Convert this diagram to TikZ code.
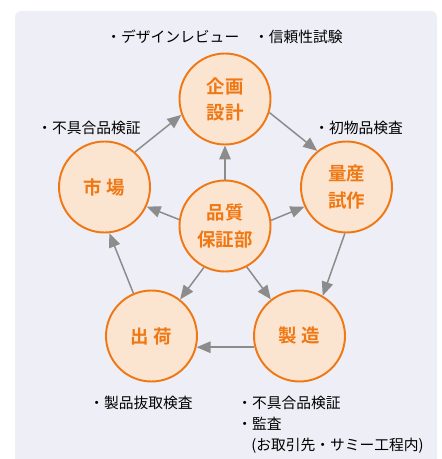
\documentclass[tikz,border=0pt]{standalone}
\usepackage{xcolor}
\usepackage{tikz}
\usepackage{fontspec}
\setmainfont{Noto Sans CJK JP}[BoldFont={Noto Sans CJK JP Bold}]
\usetikzlibrary{shapes.geometric, arrows.meta, calc}

\definecolor{qorange}{HTML}{F07814}
\definecolor{qfill}{HTML}{FCE5D0}
\definecolor{qback}{HTML}{EEEEF6}
\definecolor{qgray}{HTML}{8C8C8C}

\begin{document}
\begin{tikzpicture}[
    stage/.style={circle,draw=qorange,fill=qfill,line width=1.1pt,minimum size=1.82cm,inner sep=0pt,
        text=qorange,font=\fontsize{10.5}{14.8}\selectfont\bfseries,align=center},
    note/.style={inner sep=0pt,font=\fontsize{8.4}{12}\selectfont,align=left},
    flow/.style={draw=qgray,line width=0.85pt,-{Triangle[length=2.8mm,width=2.3mm]}}
]
    \useasboundingbox (0,0) rectangle (8.82,9.18);
    % 背景
    \fill[qback,rounded corners=0.12cm] (0.30,-0.3) rectangle (8.74,8.96);

    % サイクル
    \node[stage] (plan) at (4.50,7.20) {企画\\設計};
    \node[stage] (trial) at (6.93,5.44) {量産\\試作};
    \node[stage] (mfg) at (5.99,2.46) {製 造};
    \node[stage] (ship) at (3.03,2.46) {出 荷};
    \node[stage] (market) at (2.09,5.44) {市 場};
    \node[stage] (qa) at (4.50,4.66) {品質\\保証部};

    % 注記
    \node[note] (planNote) at (4.49,8.44) {・デザインレビュー　・信頼性試験};
    \node[note,anchor=west] (marketNote) at (0.74,6.62) {・不具合品検証};
    \node[note,anchor=west] (trialNote) at (6.28,6.62) {・初物品検査};
    \node[note,anchor=west] (shipNote) at (1.78,1.12) {・製品抜取検査};
    \node[note,anchor=north west] (mfgNote) at (4.74,1.27) {・不具合品検証\\・監査\\\hspace{0.28cm}(お取引先・サミー工程内)};

    % 矢印
    \draw[flow] (market.49) -- (plan.200);
    \draw[flow] (plan.343) -- (trial.129);
    \draw[flow] (trial.268) -- (mfg.60);
    \draw[flow] (mfg.194) -- (ship.346);
    \draw[flow] (ship.113) -- (market.276);

    \draw[flow] (qa.north) -- (plan.south);
    \draw[flow] (qa.172) -- (market.335);
    \draw[flow] (qa.7) -- (trial.205);
    \draw[flow] (qa.243) -- (ship.52);
    \draw[flow] (qa.298) -- (mfg.128);
\end{tikzpicture}
\end{document}
